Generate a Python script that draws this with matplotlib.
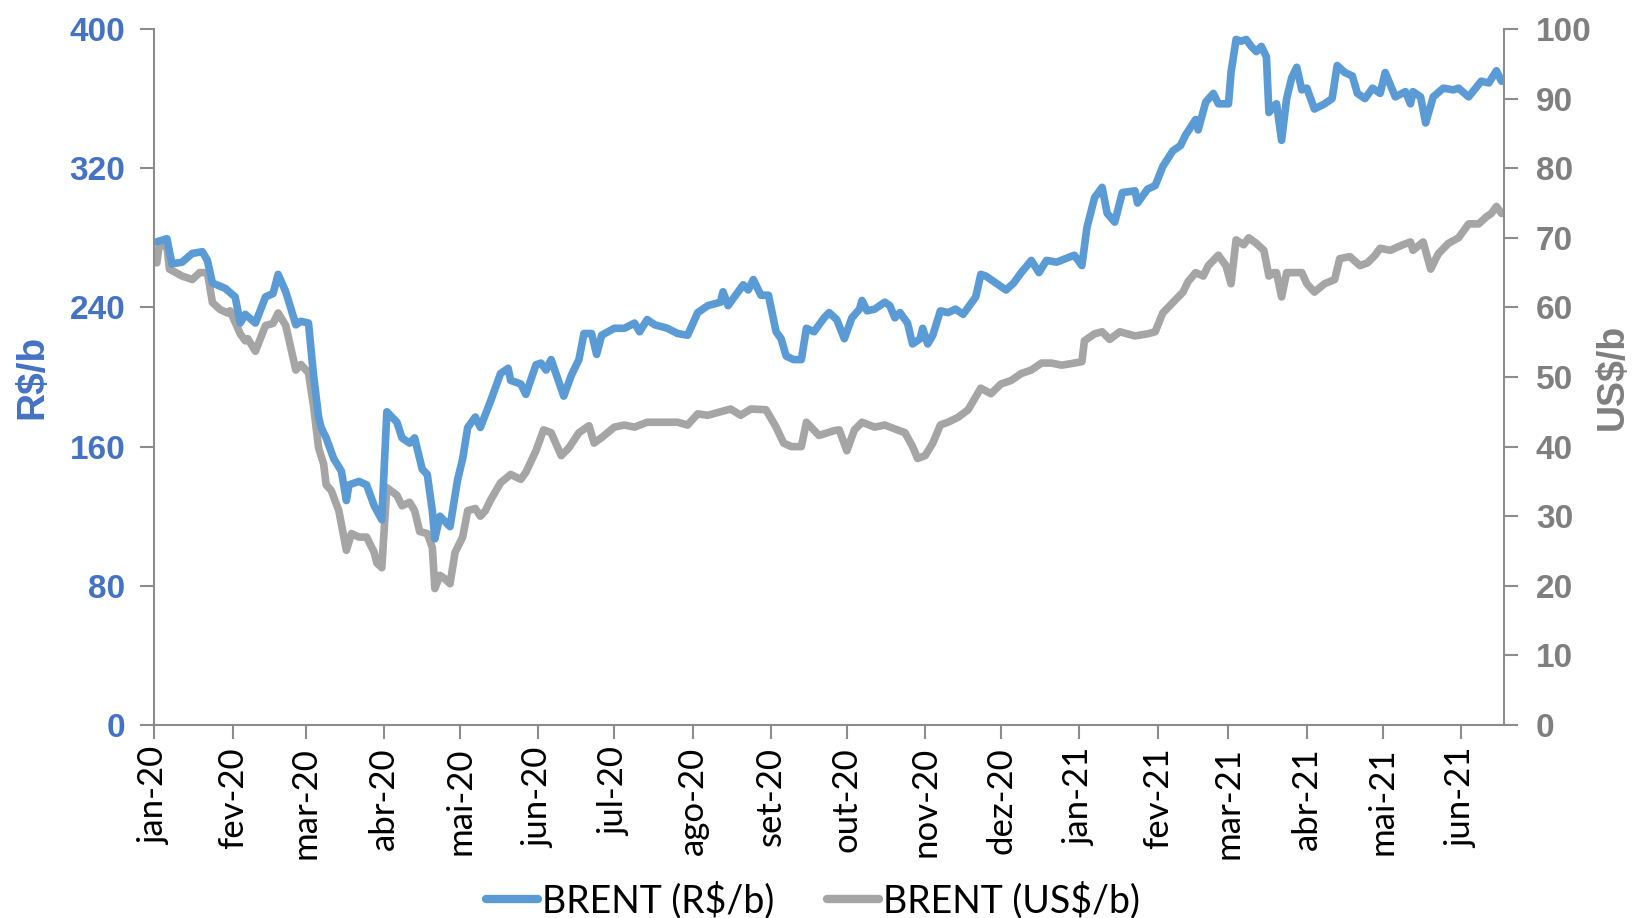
import numpy as np
import pandas as pd
import matplotlib
matplotlib.use("Agg")
import matplotlib.pyplot as plt

plt.rcParams['font.family'] = ['Lato', 'DejaVu Sans']
negrito = ['Liberation Sans', 'DejaVu Sans']

# dias desde 01/01/2020 e valores
dias_brl = [1, 5, 7, 11, 15, 19, 21, 23, 28, 32, 34, 36, 40, 44, 47, 49, 52, 56, 58, 61,
            63, 65, 66, 68, 71, 74, 76, 77, 81, 84, 87, 90, 92, 96, 98, 101, 103, 106, 108, 110,
            111, 113, 117, 120, 122, 124, 127, 129, 133, 137, 140, 141, 145, 147, 151, 153, 155, 157, 162, 165,
            168, 170, 173, 175, 177, 182, 186, 190, 192, 195, 198, 203, 207, 211, 215, 219, 224, 225, 227, 230,
            233, 235, 237, 240, 243, 246, 248, 250, 253, 256, 258, 261, 265, 267, 270, 273, 276, 279, 280, 282,
            285, 289, 291, 293, 295, 298, 300, 303, 304, 306, 308, 311, 314, 317, 320, 325, 327, 329, 333, 337,
            340, 343, 347, 350, 353, 357, 364, 367, 369, 372, 375, 377, 380, 383, 388, 389, 393, 396, 399, 403,
            406, 408, 412, 413, 416, 419, 421, 425, 426, 428, 430, 432, 434, 436, 438, 440, 441, 443, 444, 446,
            448, 450, 452, 454, 456, 459, 463, 466, 468, 471, 474, 476, 479, 482, 485, 487, 489, 491, 495, 497,
            498, 501, 503, 506, 510, 514, 516, 520, 525, 528, 531, 533]
brent_brl = [277.7, 279.5, 265, 266, 271, 272, 267, 254, 251, 246, 231, 236, 231, 246, 248, 259, 249, 230, 232, 231,
             201, 177, 171, 165, 153, 146, 129, 138, 140, 138, 126, 118, 180, 174, 165, 162, 165, 147, 144, 123,
             107, 120, 114, 141, 153, 171, 177, 171, 186, 202, 205, 198, 196, 190, 207, 208, 204, 210, 189, 201,
             210, 225, 225, 213, 224, 228, 228, 231, 226, 233, 230, 228, 225, 224, 237, 241, 243, 249, 241, 247,
             253, 250, 256, 247, 247, 226, 222, 212, 210, 210, 228, 226, 234, 237, 233, 222, 234, 239, 244, 238,
             239, 243, 241, 234, 237, 231, 219, 222, 228, 219, 224, 238, 237, 239, 236, 246, 259, 258, 254, 250,
             254, 260, 267, 260, 267, 266, 270, 264, 286, 303, 309, 294, 289, 306, 307, 300, 308, 310, 321, 330,
             333, 339, 348, 342, 358, 363, 357, 357, 375, 394, 393, 394, 390, 387, 390, 384, 352, 356, 357, 336,
             360, 372, 378, 365, 366, 354, 357, 360, 379, 375, 373, 363, 360, 366, 363, 375, 368, 361, 364, 357,
             364, 361, 346, 361, 366, 365, 366, 361, 370, 369, 376, 370]

dias_usd = [1, 2, 5, 6, 11, 15, 18, 21, 23, 26, 29, 30, 34, 36, 37, 40, 44, 47, 49, 52,
            56, 58, 61, 63, 65, 67, 68, 70, 73, 76, 78, 81, 84, 87, 88, 90, 92, 96, 98, 101,
            103, 105, 108, 110, 111, 113, 115, 117, 119, 122, 124, 127, 129, 131, 133, 137, 141, 145, 147, 151,
            154, 157, 161, 164, 168, 172, 174, 177, 182, 186, 190, 195, 201, 207, 211, 215, 219, 224, 228, 232,
            236, 242, 246, 249, 252, 256, 258, 263, 269, 271, 274, 277, 280, 285, 289, 294, 297, 300, 302, 305,
            308, 311, 314, 318, 322, 327, 331, 335, 339, 343, 347, 351, 355, 359, 364, 367, 368, 372, 375, 378,
            382, 388, 393, 396, 399, 403, 407, 409, 412, 415, 417, 421, 424, 426, 428, 431, 433, 436, 439, 441,
            443, 444, 446, 448, 450, 454, 456, 459, 463, 467, 469, 473, 477, 480, 483, 485, 489, 494, 497, 498,
            502, 505, 508, 512, 516, 520, 524, 527, 529, 531, 533]
brent_usd = [66.4, 69.0, 68.7, 65.5, 64.5, 64.0, 65.0, 65.0, 60.7, 59.7, 59.2, 59.5, 56.2, 55.2, 55.5, 53.7, 57.4, 57.7, 59.2, 57.4,
             51.0, 51.8, 50.6, 45.8, 39.8, 37.5, 34.5, 33.7, 30.8, 25.1, 27.5, 27.0, 27.0, 24.8, 23.3, 22.6, 34.1, 33.0, 31.5, 32.0,
             30.8, 27.8, 27.5, 25.5, 19.6, 21.5, 21.0, 20.3, 24.8, 27.0, 30.8, 31.1, 30.0, 30.8, 32.3, 34.8, 36.0, 35.3, 36.3, 39.4,
             42.4, 42.0, 38.7, 39.8, 42.0, 43.0, 40.5, 41.3, 42.8, 43.1, 42.8, 43.5, 43.5, 43.5, 43.1, 44.7, 44.5, 45.0, 45.4, 44.5,
             45.4, 45.3, 42.8, 40.5, 40.0, 40.0, 43.5, 41.6, 42.3, 42.4, 39.4, 42.4, 43.5, 42.8, 43.1, 42.4, 42.0, 40.0, 38.3, 38.7,
             40.5, 43.1, 43.5, 44.2, 45.3, 48.4, 47.6, 49.0, 49.5, 50.5, 51.0, 52.0, 52.0, 51.7, 52.0, 52.2, 55.2, 56.2, 56.5, 55.4,
             56.5, 55.9, 56.2, 56.5, 59.2, 60.7, 62.2, 63.7, 65.0, 64.5, 66.0, 67.5, 66.0, 63.4, 69.7, 69.0, 70.0, 69.2, 68.2, 64.5,
             65.0, 65.0, 61.5, 65.0, 65.0, 65.0, 63.4, 62.2, 63.4, 64.0, 67.0, 67.3, 66.0, 66.4, 67.5, 68.5, 68.2, 69.0, 69.4, 68.2,
             69.4, 65.5, 67.7, 69.2, 70.0, 72.0, 72.0, 73.0, 73.5, 74.5, 73.5]

meses = ["jan-20", "fev-20", "mar-20", "abr-20", "mai-20", "jun-20", "jul-20", "ago-20", "set-20",
         "out-20", "nov-20", "dez-20", "jan-21", "fev-21", "mar-21", "abr-21", "mai-21", "jun-21"]

# %%
inicio = pd.Timestamp("2020-01-01")
x_brl = inicio + pd.to_timedelta(dias_brl, unit="D")
x_usd = inicio + pd.to_timedelta(dias_usd, unit="D")
ticks = pd.date_range("2020-01-01", periods=len(meses), freq="MS")

azul = "#5B9BD5"
cinza = "#A5A5A5"
eixo = "#8C8C8C"

fig = plt.figure(figsize=(16.34, 9.18), dpi=100)
ax1 = fig.add_axes([154.3 / 1634, 193 / 918, (1504 - 154.3) / 1634, 696 / 918])
ax2 = ax1.twinx()

l1, = ax1.plot(x_brl, brent_brl, color=azul, lw=5.5, label="BRENT (R$/b)",
               solid_joinstyle="round", solid_capstyle="round")
l2, = ax2.plot(x_usd, brent_usd, color=cinza, lw=5.5, label="BRENT (US$/b)",
               solid_joinstyle="round", solid_capstyle="round")
ax1.set_zorder(ax2.get_zorder() + 1)
ax1.patch.set_visible(False)

ax1.set_xlim(inicio, inicio + pd.Timedelta(days=534))
ax1.set_ylim(0, 400)
ax2.set_ylim(0, 100)
yt1 = np.arange(0, 401, 80)
yt2 = np.arange(0, 101, 10)
ax1.set_yticks(yt1, [str(v) for v in yt1], fontweight="bold", family=negrito)
ax2.set_yticks(yt2, [str(v) for v in yt2], fontweight="bold", family=negrito)
ax1.set_xticks(ticks, meses, rotation=90, fontsize=25)

for a in (ax1, ax2):
    a.spines["top"].set_visible(False)
    for s in a.spines.values():
        s.set_color(eixo)
        s.set_linewidth(1.5)
ax1.spines["right"].set_visible(False)
ax2.spines["left"].set_visible(False)
ax2.spines["bottom"].set_visible(False)

ax1.tick_params(axis="x", length=10, width=1.5, color=eixo, pad=6)
ax1.tick_params(axis="y", length=10, width=1.5, color=eixo, labelsize=24, labelcolor="#4472C4", pad=11)
ax2.tick_params(axis="y", length=10, width=1.5, color=eixo, labelsize=24, labelcolor="#7F7F7F", pad=13)

ax1.set_ylabel("R$/b", fontsize=28, fontweight="bold", color="#4472C4", family=negrito)
ax2.set_ylabel("US$/b", fontsize=27, fontweight="bold", color="#7F7F7F", rotation=90, family=negrito)
for lab in (ax1.yaxis.label, ax2.yaxis.label):
    lab.set_va("center")
    lab.set_ha("center")
ax1.yaxis.set_label_coords((32 - 154.3) / 1349.7, 0.5)
ax2.yaxis.set_label_coords((1613 - 154.3) / 1349.7, 0.5)

leg = fig.legend(handles=[l1, l2], loc="center", bbox_to_anchor=(813 / 1634, 1 - 900 / 918), ncol=2,
                 frameon=False, fontsize=27, handlelength=1.4, handletextpad=0.1, columnspacing=1.4)
for h in leg.get_lines():
    h.set_linewidth(6)

fig.savefig("out.png", dpi=100)
